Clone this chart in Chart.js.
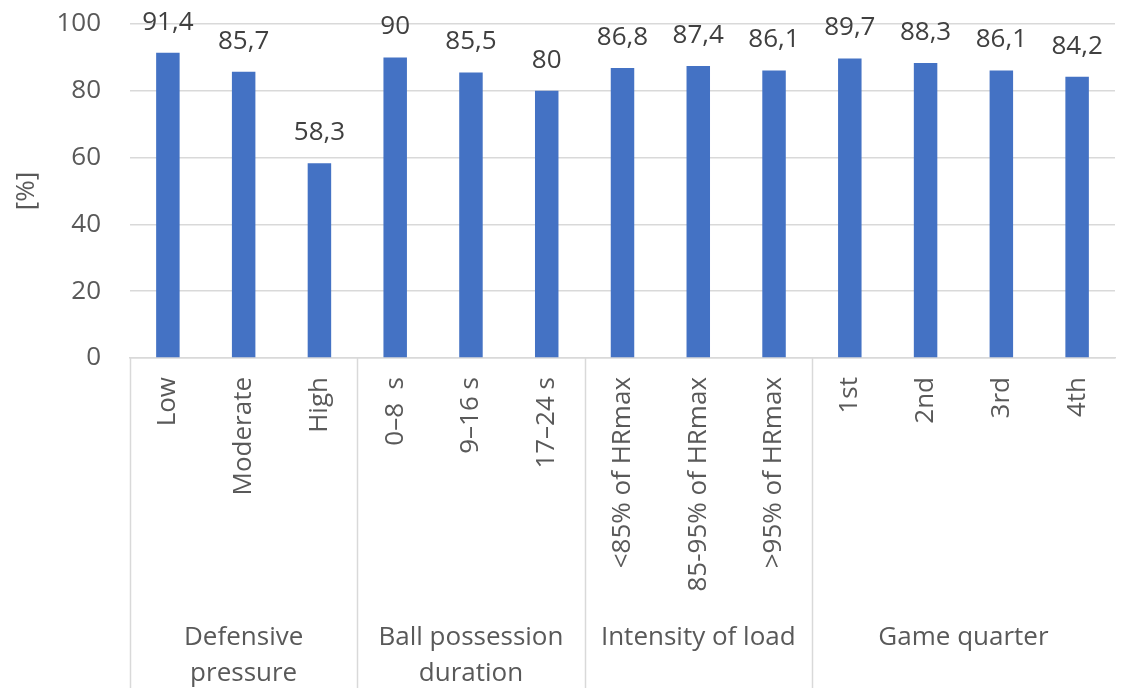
<!DOCTYPE html>
<html>
<head>
<meta charset="utf-8">
<script src="https://cdn.jsdelivr.net/npm/chart.js@4/dist/chart.umd.min.js"></script>
<style>
  html, body { margin: 0; padding: 0; background: #ffffff; }
  #wrap { width: 1121px; height: 688px; }
</style>
</head>
<body>
<div id="wrap"><canvas id="c" width="1121" height="688"></canvas></div>
<script>
// Categories along the x axis
const categories = [
  'Low', 'Moderate', 'High',
  '0\u20138  s', '9\u201316 s', '17\u201324 s',
  '<85% of HRmax', '85-95% of HRmax', '>95% of HRmax',
  '1st', '2nd', '3rd', '4th'
];
// Percentage per category
const values = [91.4, 85.7, 58.3, 90, 85.5, 80, 86.8, 87.4, 86.1, 89.7, 88.3, 86.1, 84.2];
// Category groups: lines of the group caption and how many categories they span
const groupLines = [
  ['Defensive', 'pressure'],
  ['Ball possession', 'duration'],
  ['Intensity of load'],
  ['Game quarter']
];
const groupSizes = [3, 3, 3, 4];
// Y-axis ticks
const yTicks = [0, 20, 40, 60, 80, 100];

const FONT = '"Open Sans", "Noto Sans", sans-serif';
const AXIS_COLOR = '#595959';
const LINE_COLOR = '#d9d9d9';

function fmt(v) { return String(v).replace('.', ','); }

// Value labels above each bar
const valueLabels = {
  id: 'valueLabels',
  afterDatasetsDraw(chart) {
    const ctx = chart.ctx;
    const meta = chart.getDatasetMeta(0);
    ctx.save();
    ctx.font = '26px ' + FONT;
    ctx.fillStyle = '#404040';
    ctx.textAlign = 'center';
    ctx.textBaseline = 'alphabetic';
    meta.data.forEach((bar, i) => {
      ctx.fillText(fmt(values[i]), bar.x, bar.y - 23);
    });
    ctx.restore();
  }
};

// Group separators and group captions below the rotated tick labels
const groupAxis = {
  id: 'groupAxis',
  afterDraw(chart) {
    const ctx = chart.ctx;
    const x = chart.scales.x;
    const area = chart.chartArea;
    const half = (x.getPixelForValue(1) - x.getPixelForValue(0)) / 2;
    ctx.save();
    ctx.strokeStyle = LINE_COLOR;
    ctx.lineWidth = 1.5;
    let idx = 0;
    groupSizes.forEach((n, g) => {
      const left = x.getPixelForValue(idx) - half;
      const right = x.getPixelForValue(idx + n - 1) + half;
      ctx.beginPath();
      ctx.moveTo(Math.round(left) + 0.5, area.bottom);
      ctx.lineTo(Math.round(left) + 0.5, chart.height);
      ctx.stroke();
      ctx.font = '26px ' + FONT;
      ctx.fillStyle = AXIS_COLOR;
      ctx.textAlign = 'center';
      ctx.textBaseline = 'alphabetic';
      groupLines[g].forEach((line, k) => {
        ctx.fillText(line, (left + right) / 2, 645 + k * 36);
      });
      idx += n;
    });
    ctx.restore();
  }
};

new Chart(document.getElementById('c'), {
  type: 'bar',
  data: {
    labels: categories,
    datasets: [{
      data: values,
      backgroundColor: '#4472c4',
      borderWidth: 0,
      barPercentage: 0.62,
      categoryPercentage: 0.5
    }]
  },
  options: {
    responsive: false,
    animation: false,
    devicePixelRatio: 1,
    layout: { padding: { top: 24, right: 6, left: 0, bottom: 0 } },
    plugins: {
      legend: { display: false },
      tooltip: { enabled: false }
    },
    scales: {
      x: {
        offset: true,
        afterFit(s) { s.height = 330; s.paddingLeft = 0; s.paddingRight = 0; },
        grid: { display: false, drawTicks: false },
        border: { display: true, color: LINE_COLOR, width: 1.5 },
        ticks: {
          autoSkip: false,
          minRotation: 90,
          maxRotation: 90,
          padding: 19,
          color: AXIS_COLOR,
          font: { family: FONT, size: 26 }
        }
      },
      y: {
        min: 0,
        max: 100,
        afterFit(s) { s.width = 130; s.paddingTop = 0; s.paddingBottom = 0; },
        afterBuildTicks(s) { s.ticks = yTicks.map(v => ({ value: v })); },
        grid: { color: LINE_COLOR, lineWidth: 1.5, drawTicks: false },
        border: { display: false },
        ticks: {
          padding: 29,
          color: AXIS_COLOR,
          font: { family: FONT, size: 26 }
        },
        title: {
          display: true,
          text: '[%]',
          color: AXIS_COLOR,
          font: { family: FONT, size: 26 },
          padding: { top: 11, bottom: 0 }
        }
      }
    }
  },
  plugins: [valueLabels, groupAxis]
});
</script>
</body>
</html>
